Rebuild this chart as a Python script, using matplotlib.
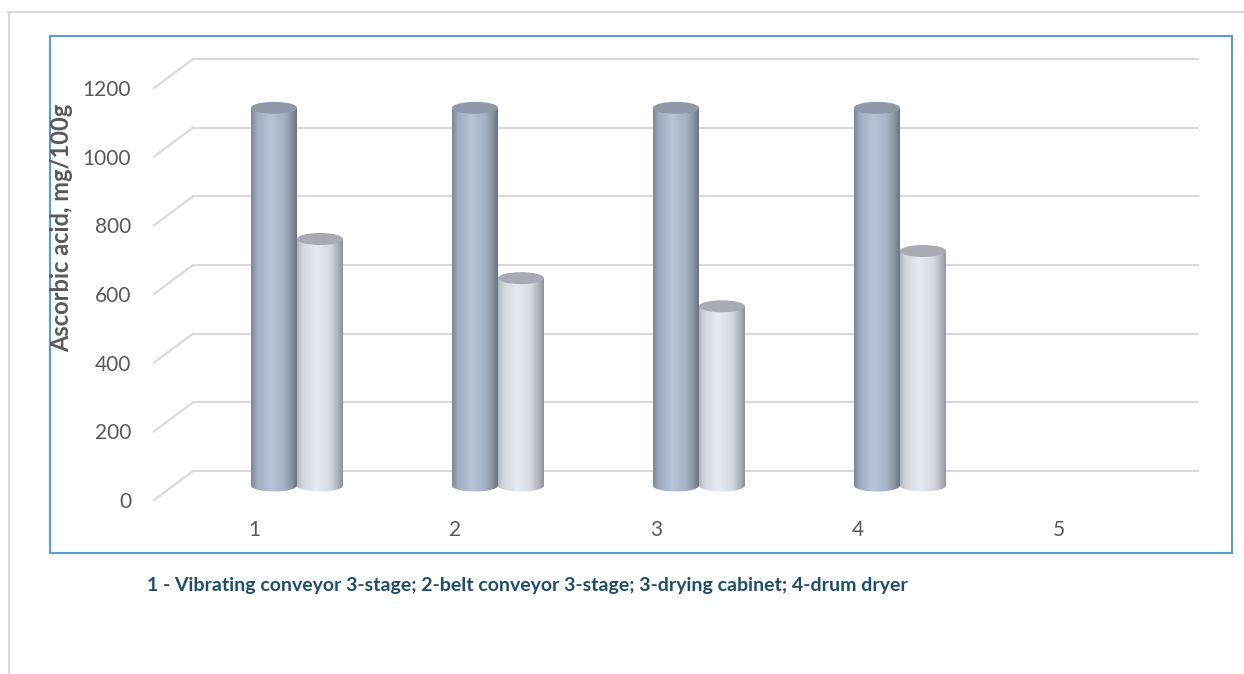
import numpy as np
import matplotlib
matplotlib.use("Agg")
import matplotlib.pyplot as plt
from matplotlib.patches import Ellipse, PathPatch
from matplotlib.path import Path
from matplotlib.lines import Line2D
from matplotlib.transforms import offset_copy

plt.rcParams['font.family'] = ['Lato', 'DejaVu Sans']

# ascorbic acid content, mg/100g
categories = [1, 2, 3, 4, 5]
fresh = [1100, 1100, 1100, 1100]
dried = [718, 604, 522, 683]
y_ticks = [0, 200, 400, 600, 800, 1000, 1200]
caption = "1 - Vibrating conveyor 3-stage; 2-belt conveyor 3-stage; 3-drying cabinet; 4-drum dryer"

W, H = 1244, 674
fig = plt.figure(figsize=(W / 100, H / 100), dpi=100)

# plane through the middle of the columns (pixels from top-left)
x0_px, x1_px = 173.5, 1178.5
y0_px, y1_px = 485.5, 73.5
px_per_unit = (y0_px - y1_px) / 1200.0
y_lo = -60
ybot_px = y0_px - y_lo * px_per_unit
ax = fig.add_axes([x0_px / W, 1 - ybot_px / H, (x1_px - x0_px) / W, (ybot_px - y1_px) / H])
ax.axis('off')

depth_dx, depth_dy = 19.5, 14.5
back = offset_copy(ax.transData, fig=fig, x=depth_dx, y=depth_dy, units='dots')
front = offset_copy(ax.transData, fig=fig, x=-depth_dx, y=-depth_dy, units='dots')

bar_w = 46 / 201.0
cap_h = 12 / px_per_unit

blue_stops = [(0.0, '#7d8899'), (0.12, '#9eaabd'), (0.42, '#b8c4d7'), (0.72, '#a6b1c4'),
              (0.9, '#87919f'), (1.0, '#6c7481')]
light_stops = [(0.0, '#b3b8c0'), (0.12, '#d3d8e0'), (0.42, '#e6ebf3'), (0.72, '#d5dae1'),
               (0.9, '#acb1b8'), (1.0, '#8e939a')]
blue_top = '#8f99aa'
light_top = '#a7acb4'


def gradient(stops, n=64):
    pos = [s[0] for s in stops]
    cols = np.array([matplotlib.colors.to_rgb(s[1]) for s in stops])
    t = np.linspace(0, 1, n)
    return np.stack([np.interp(t, pos, cols[:, k]) for k in range(3)], axis=-1)[None, :, :]


def cylinder(xc, h, stops, top_col, z):
    xl, xr = xc - bar_w / 2, xc + bar_w / 2
    # body outline: straight sides, rounded bottom edge
    t = np.linspace(np.pi, 2 * np.pi, 40)
    bottom = np.column_stack([xc + np.cos(t) * bar_w / 2, np.sin(t) * cap_h / 2])
    verts = np.vstack([[[xl, h]], bottom, [[xr, h]], [[xl, h]]])
    codes = [Path.MOVETO] + [Path.LINETO] * (len(verts) - 2) + [Path.CLOSEPOLY]
    body = PathPatch(Path(verts, codes), facecolor='none', edgecolor='none')
    ax.add_patch(body)
    im = ax.imshow(gradient(stops), extent=(xl, xr, -cap_h, h), aspect='auto',
                   interpolation='bilinear', zorder=z)
    im.set_clip_path(body)
    ax.add_patch(Ellipse((xc, h), bar_w, cap_h, facecolor=top_col, edgecolor='none', zorder=z + 0.5))


for i, (a, b) in enumerate(zip(fresh, dried)):
    c = categories[i]
    cylinder(c, a, blue_stops, blue_top, 3)
    cylinder(c + bar_w, b, light_stops, light_top, 4)

ax.set_xlim(0.5, 5.5)
ax.set_ylim(y_lo, 1200)

grid_c = '#d9d9d9'
for v in y_ticks:
    # wall gridline plus the diagonal running to the front edge
    ax.plot([0.5, 5.5], [v, v], color=grid_c, lw=1.5, transform=back, clip_on=False, zorder=1)
    p_back = back.transform((0.5, v))
    p_front = front.transform((0.5, v))
    fig.add_artist(Line2D([p_front[0] / W, p_back[0] / W], [p_front[1] / H, p_back[1] / H],
                          color=grid_c, lw=1.5))
    lab = offset_copy(front, fig=fig, x=-23, y=-2, units='dots')
    ax.text(0.5, v, str(v), transform=lab, ha='right', va='center',
            fontsize=15, color='#595959')

cat_lab = offset_copy(front, fig=fig, x=0, y=-30, units='dots')
for c in categories:
    ax.text(c, 0, str(c), transform=cat_lab, ha='center', va='center',
            fontsize=15, color='#595959')

fig.text(62 / W, 1 - 228 / H, "Ascorbic acid, mg/100g", rotation=90, ha='center', va='center',
         fontsize=17, fontweight='bold', color='#595959')

fig.text(147 / W, 1 - 586 / H, caption, ha='left', va='center',
         fontsize=14, fontweight='bold', color='#1f4e6b')

# chart frame and page border
fig.add_artist(plt.Rectangle((50 / W, 1 - 553 / H), (1232 - 50) / W, (553 - 36) / H,
                             fill=False, edgecolor='#5b9bd5', lw=1.5))
fig.add_artist(Line2D([8 / W, 1], [1 - 12 / H, 1 - 12 / H], color='#d9d9d9', lw=1.5))
fig.add_artist(Line2D([9 / W, 9 / W], [0, 1 - 12 / H], color='#d9d9d9', lw=1.5))

fig.savefig('out.png', dpi=100, facecolor='white')
